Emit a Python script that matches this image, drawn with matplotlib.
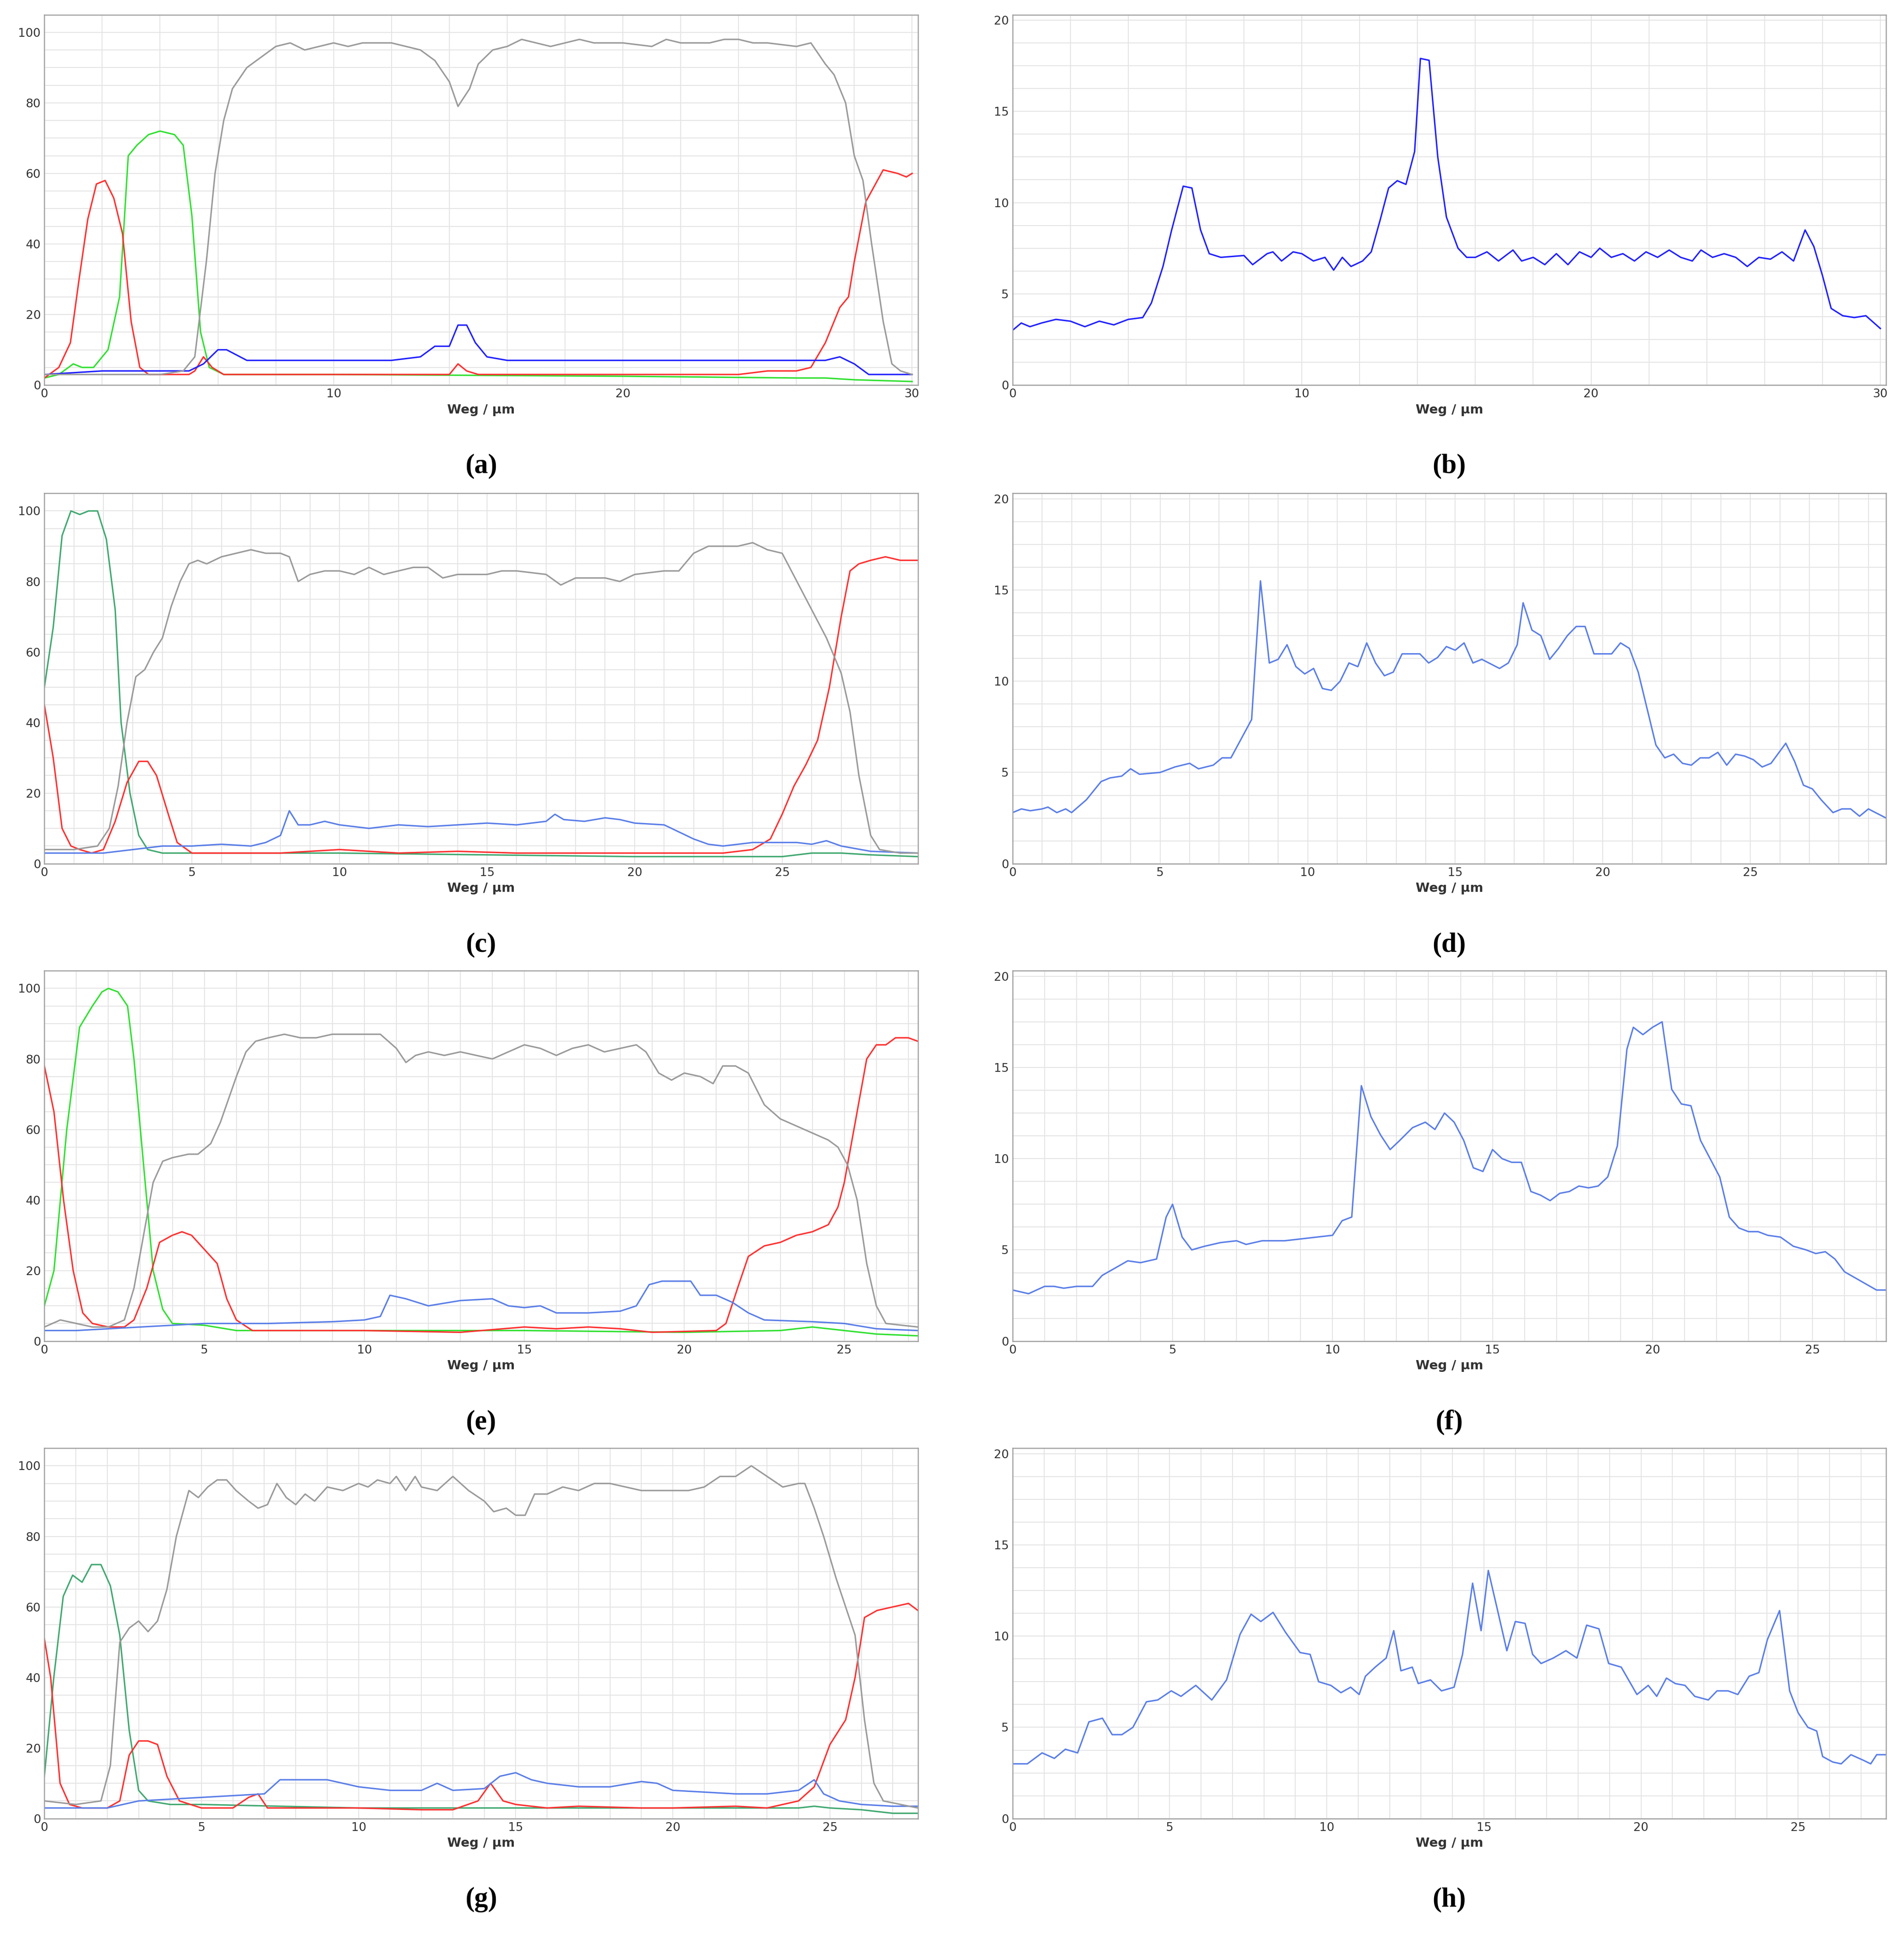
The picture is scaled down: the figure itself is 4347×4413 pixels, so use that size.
import numpy as np
import matplotlib
matplotlib.use('Agg')
import matplotlib.pyplot as plt
from matplotlib.ticker import MultipleLocator

# ── COLOURS ─────────────────────────────────────────────
GRAY = '#9a9a9a'
RED = '#ff3030'
GREEN = '#30e030'
TEAL = '#40a870'
BLUE = '#2020ff'
LBLUE = '#5a7ee8'

# ── PANEL (a) ───────────────────────────────────────────
a_gray_x = [0, 4, 4.8, 5.2, 5.6, 5.9, 6.2, 6.5, 7, 7.5, 8, 8.5, 9, 9.5, 10, 10.5, 11, 12, 13, 13.5, 14, 14.3, 14.7, 15, 15.5, 16, 16.5, 17, 17.5, 18, 18.5, 19, 20, 21, 21.5, 22, 23, 23.5, 24, 24.5, 25, 26, 26.5, 27, 27.3, 27.7, 28, 28.3, 28.6, 29, 29.3, 29.6, 30]
a_gray_y = [3, 3, 4, 8, 35, 60, 75, 84, 90, 93, 96, 97, 95, 96, 97, 96, 97, 97, 95, 92, 86, 79, 84, 91, 95, 96, 98, 97, 96, 97, 98, 97, 97, 96, 98, 97, 97, 98, 98, 97, 97, 96, 97, 91, 88, 80, 65, 58, 40, 18, 6, 4, 3]
a_red_x = [0, 0.5, 0.9, 1.2, 1.5, 1.8, 2.1, 2.4, 2.7, 3, 3.3, 3.6, 4.5, 5, 5.2, 5.5, 5.8, 6.2, 8, 14, 14.3, 14.6, 15, 24, 25, 26, 26.5, 27, 27.5, 27.8, 28, 28.4, 28.8, 29, 29.5, 29.8, 30]
a_red_y = [2, 5, 12, 30, 47, 57, 58, 53, 43, 18, 5, 3, 3, 3, 4, 8, 5, 3, 3, 3, 6, 4, 3, 3, 4, 4, 5, 12, 22, 25, 35, 52, 58, 61, 60, 59, 60]
a_green_x = [0, 0.5, 1, 1.3, 1.7, 2.2, 2.6, 2.9, 3.2, 3.6, 4, 4.5, 4.8, 5.1, 5.4, 5.7, 6.2, 10, 20, 26, 27, 28, 30]
a_green_y = [2, 3, 6, 5, 5, 10, 25, 65, 68, 71, 72, 71, 68, 48, 15, 5, 3, 3, 2.5, 2, 2, 1.5, 1]
a_blue_x = [0, 2, 4, 5, 5.5, 6, 6.3, 7, 8, 9, 10, 11, 12, 13, 13.5, 14, 14.3, 14.6, 14.9, 15.3, 16, 20, 26, 27, 27.5, 28, 28.5, 30]
a_blue_y = [3, 4, 4, 4, 6, 10, 10, 7, 7, 7, 7, 7, 7, 8, 11, 11, 17, 17, 12, 8, 7, 7, 7, 7, 8, 6, 3, 3]

# ── PANEL (b) ───────────────────────────────────────────
b_x = [0, 0.3, 0.6, 1, 1.5, 2, 2.5, 3, 3.5, 4, 4.5, 4.8, 5.2, 5.5, 5.9, 6.2, 6.5, 6.8, 7.2, 8, 8.3, 8.8, 9, 9.3, 9.7, 10, 10.4, 10.8, 11.1, 11.4, 11.7, 12.1, 12.4, 12.7, 13, 13.3, 13.6, 13.9, 14.1, 14.4, 14.7, 15, 15.4, 15.7, 16, 16.4, 16.8, 17.3, 17.6, 18, 18.4, 18.8, 19.2, 19.6, 20, 20.3, 20.7, 21.1, 21.5, 21.9, 22.3, 22.7, 23.1, 23.5, 23.8, 24.2, 24.6, 25, 25.4, 25.8, 26.2, 26.6, 27, 27.4, 27.7, 28, 28.3, 28.7, 29.1, 29.5, 30]
b_y = [3, 3.4, 3.2, 3.4, 3.6, 3.5, 3.2, 3.5, 3.3, 3.6, 3.7, 4.5, 6.5, 8.5, 10.9, 10.8, 8.5, 7.2, 7, 7.1, 6.6, 7.2, 7.3, 6.8, 7.3, 7.2, 6.8, 7, 6.3, 7, 6.5, 6.8, 7.3, 9, 10.8, 11.2, 11, 12.8, 17.9, 17.8, 12.5, 9.2, 7.5, 7, 7, 7.3, 6.8, 7.4, 6.8, 7, 6.6, 7.2, 6.6, 7.3, 7, 7.5, 7, 7.2, 6.8, 7.3, 7, 7.4, 7, 6.8, 7.4, 7, 7.2, 7, 6.5, 7, 6.9, 7.3, 6.8, 8.5, 7.6, 6, 4.2, 3.8, 3.7, 3.8, 3.1]

# ── PANEL (c) ───────────────────────────────────────────
c_gray_x = [0, 1, 1.8, 2.2, 2.5, 2.8, 3.1, 3.4, 3.7, 4, 4.3, 4.6, 4.9, 5.2, 5.5, 6, 6.5, 7, 7.5, 8, 8.3, 8.6, 9, 9.5, 10, 10.5, 11, 11.5, 12, 12.5, 13, 13.5, 14, 15, 15.5, 16, 17, 17.5, 18, 19, 19.5, 20, 21, 21.5, 22, 22.5, 23, 23.5, 24, 24.5, 25, 25.5, 26, 26.5, 27, 27.3, 27.6, 28, 28.3, 29, 29.6]
c_gray_y = [4, 4, 5, 10, 22, 40, 53, 55, 60, 64, 73, 80, 85, 86, 85, 87, 88, 89, 88, 88, 87, 80, 82, 83, 83, 82, 84, 82, 83, 84, 84, 81, 82, 82, 83, 83, 82, 79, 81, 81, 80, 82, 83, 83, 88, 90, 90, 90, 91, 89, 88, 80, 72, 64, 54, 43, 25, 8, 4, 3, 3]
c_green_x = [0, 0.3, 0.6, 0.9, 1.2, 1.5, 1.8, 2.1, 2.4, 2.6, 2.9, 3.2, 3.5, 4, 10, 20, 25, 26, 27, 28, 29.6]
c_green_y = [50, 67, 93, 100, 99, 100, 100, 92, 72, 40, 20, 8, 4, 3, 3, 2, 2, 3, 3, 2.5, 2]
c_red_x = [0, 0.3, 0.6, 0.9, 1.2, 1.6, 2, 2.4, 2.8, 3.2, 3.5, 3.8, 4.2, 4.5, 5, 6, 8, 10, 12, 14, 16, 18, 20, 23, 24, 24.6, 25, 25.4, 25.8, 26.2, 26.6, 27, 27.3, 27.6, 28, 28.5, 29, 29.6]
c_red_y = [45, 30, 10, 5, 4, 3, 4, 12, 23, 29, 29, 25, 14, 6, 3, 3, 3, 4, 3, 3.5, 3, 3, 3, 3, 4, 7, 14, 22, 28, 35, 50, 70, 83, 85, 86, 87, 86, 86]
c_blue_x = [0, 2, 3, 4, 5, 6, 7, 7.5, 8, 8.3, 8.6, 9, 9.5, 10, 11, 12, 13, 14, 15, 16, 17, 17.3, 17.6, 18.3, 19, 19.5, 20, 21, 22, 22.5, 23, 24, 25, 25.5, 26, 26.5, 27, 28, 29.6]
c_blue_y = [3, 3, 4, 5, 5, 5.5, 5, 6, 8, 15, 11, 11, 12, 11, 10, 11, 10.5, 11, 11.5, 11, 12, 14, 12.5, 12, 13, 12.5, 11.5, 11, 7, 5.5, 5, 6, 6, 6, 5.5, 6.5, 5, 3.5, 3]

# ── PANEL (d) ───────────────────────────────────────────
d_x = [0, 0.3, 0.6, 1, 1.2, 1.5, 1.8, 2, 2.5, 3, 3.3, 3.7, 4, 4.3, 5, 5.5, 6, 6.3, 6.8, 7.1, 7.4, 7.8, 8.1, 8.4, 8.7, 9, 9.3, 9.6, 9.9, 10.2, 10.5, 10.8, 11.1, 11.4, 11.7, 12, 12.3, 12.6, 12.9, 13.2, 13.8, 14.1, 14.4, 14.7, 15, 15.3, 15.6, 15.9, 16.5, 16.8, 17.1, 17.3, 17.6, 17.9, 18.2, 18.5, 18.8, 19.1, 19.4, 19.7, 20, 20.3, 20.6, 20.9, 21.2, 21.5, 21.8, 22.1, 22.4, 22.7, 23, 23.3, 23.6, 23.9, 24.2, 24.5, 24.8, 25.1, 25.4, 25.7, 26.2, 26.5, 26.8, 27.1, 27.4, 27.8, 28.1, 28.4, 28.7, 29, 29.6]
d_y = [2.8, 3.0, 2.9, 3, 3.1, 2.8, 3, 2.8, 3.5, 4.5, 4.7, 4.8, 5.2, 4.9, 5, 5.3, 5.5, 5.2, 5.4, 5.8, 5.8, 7, 7.9, 15.5, 11, 11.2, 12, 10.8, 10.4, 10.7, 9.6, 9.5, 10, 11, 10.8, 12.1, 11, 10.3, 10.5, 11.5, 11.5, 11, 11.3, 11.9, 11.7, 12.1, 11, 11.2, 10.7, 11, 12, 14.3, 12.8, 12.5, 11.2, 11.8, 12.5, 13, 13, 11.5, 11.5, 11.5, 12.1, 11.8, 10.5, 8.5, 6.5, 5.8, 6, 5.5, 5.4, 5.8, 5.8, 6.1, 5.4, 6, 5.9, 5.7, 5.3, 5.5, 6.6, 5.6, 4.3, 4.1, 3.5, 2.8, 3, 3, 2.6, 3, 2.5]

# ── PANEL (e) ───────────────────────────────────────────
e_gray_x = [0, 0.5, 1, 1.5, 2, 2.5, 2.8, 3.1, 3.4, 3.7, 4, 4.5, 4.8, 5.2, 5.5, 6, 6.3, 6.6, 7, 7.5, 8, 8.5, 9, 9.5, 10, 10.5, 11, 11.3, 11.6, 12, 12.5, 13, 13.5, 14, 14.5, 15, 15.5, 16, 16.5, 17, 17.5, 18, 18.5, 18.8, 19.2, 19.6, 20, 20.5, 20.9, 21.2, 21.6, 22, 22.5, 23, 23.5, 24, 24.5, 24.8, 25.1, 25.4, 25.7, 26, 26.3, 27.3]
e_gray_y = [4, 6, 5, 4, 4, 6, 15, 30, 45, 51, 52, 53, 53, 56, 62, 75, 82, 85, 86, 87, 86, 86, 87, 87, 87, 87, 83, 79, 81, 82, 81, 82, 81, 80, 82, 84, 83, 81, 83, 84, 82, 83, 84, 82, 76, 74, 76, 75, 73, 78, 78, 76, 67, 63, 61, 59, 57, 55, 50, 40, 22, 10, 5, 4]
e_green_x = [0, 0.3, 0.7, 1.1, 1.5, 1.8, 2, 2.3, 2.6, 2.8, 3.1, 3.4, 3.7, 4, 5, 6, 10, 15, 20, 23, 24, 25, 26, 27.3]
e_green_y = [10, 20, 60, 89, 95, 99, 100, 99, 95, 80, 50, 20, 9, 5, 4.5, 3, 3, 3, 2.5, 3, 4, 3, 2, 1.5]
e_red_x = [0, 0.3, 0.6, 0.9, 1.2, 1.5, 2, 2.5, 2.8, 3.2, 3.6, 4, 4.3, 4.6, 5, 5.4, 5.7, 6, 6.5, 10, 13, 15, 16, 17, 18, 19, 21, 21.3, 21.7, 22, 22.5, 23, 23.5, 24, 24.5, 24.8, 25, 25.2, 25.4, 25.7, 26, 26.3, 26.6, 27, 27.3]
e_red_y = [78, 65, 40, 20, 8, 5, 4, 4, 6, 15, 28, 30, 31, 30, 26, 22, 12, 6, 3, 3, 2.5, 4, 3.5, 4, 3.5, 2.5, 3, 5, 16, 24, 27, 28, 30, 31, 33, 38, 45, 55, 65, 80, 84, 84, 86, 86, 85]
e_blue_x = [0, 1, 2, 3, 4, 5, 6, 7, 9, 10, 10.5, 10.8, 11.3, 12, 13, 14, 14.5, 15, 15.5, 16, 17, 18, 18.5, 18.9, 19.3, 19.8, 20.2, 20.5, 21, 21.5, 22, 22.5, 24, 25, 26, 27.3]
e_blue_y = [3, 3, 3.5, 4, 4.5, 5, 5, 5, 5.5, 6, 7, 13, 12, 10, 11.5, 12, 10, 9.5, 10, 8, 8, 8.5, 10, 16, 17, 17, 17, 13, 13, 11, 8, 6, 5.5, 5, 3.5, 3]

# ── PANEL (f) ───────────────────────────────────────────
f_x = [0, 0.5, 1, 1.3, 1.6, 2, 2.5, 2.8, 3.2, 3.6, 4, 4.5, 4.8, 5, 5.3, 5.6, 6, 6.5, 7, 7.3, 7.8, 8.5, 9, 9.5, 10, 10.3, 10.6, 10.9, 11.2, 11.5, 11.8, 12.1, 12.5, 12.9, 13.2, 13.5, 13.8, 14.1, 14.4, 14.7, 15, 15.3, 15.6, 15.9, 16.2, 16.5, 16.8, 17.1, 17.4, 17.7, 18, 18.3, 18.6, 18.9, 19.2, 19.4, 19.7, 20, 20.3, 20.6, 20.9, 21.2, 21.5, 21.8, 22.1, 22.4, 22.7, 23, 23.3, 23.6, 24, 24.4, 24.8, 25.1, 25.4, 25.7, 26, 26.3, 26.6, 27, 27.3]
f_y = [2.8, 2.6, 3, 3, 2.9, 3, 3, 3.6, 4, 4.4, 4.3, 4.5, 6.8, 7.5, 5.7, 5, 5.2, 5.4, 5.5, 5.3, 5.5, 5.5, 5.6, 5.7, 5.8, 6.6, 6.8, 14, 12.3, 11.3, 10.5, 11, 11.7, 12, 11.6, 12.5, 12, 11, 9.5, 9.3, 10.5, 10, 9.8, 9.8, 8.2, 8, 7.7, 8.1, 8.2, 8.5, 8.4, 8.5, 9, 10.7, 16, 17.2, 16.8, 17.2, 17.5, 13.8, 13, 12.9, 11, 10, 9, 6.8, 6.2, 6, 6, 5.8, 5.7, 5.2, 5, 4.8, 4.9, 4.5, 3.8, 3.5, 3.2, 2.8, 2.8]

# ── PANEL (g) ───────────────────────────────────────────
g_gray_x = [0, 1, 1.8, 2.1, 2.4, 2.7, 3, 3.3, 3.6, 3.9, 4.2, 4.6, 4.9, 5.2, 5.5, 5.8, 6.1, 6.5, 6.8, 7.1, 7.4, 7.7, 8, 8.3, 8.6, 9, 9.5, 10, 10.3, 10.6, 11, 11.2, 11.5, 11.8, 12, 12.5, 13, 13.5, 14, 14.3, 14.7, 15, 15.3, 15.6, 16, 16.5, 17, 17.5, 18, 18.5, 19, 20, 20.5, 21, 21.5, 22, 22.5, 23, 23.5, 24, 24.2, 24.5, 24.8, 25.2, 25.5, 25.8, 26.1, 26.4, 26.7, 27.8]
g_gray_y = [5, 4, 5, 15, 50, 54, 56, 53, 56, 65, 80, 93, 91, 94, 96, 96, 93, 90, 88, 89, 95, 91, 89, 92, 90, 94, 93, 95, 94, 96, 95, 97, 93, 97, 94, 93, 97, 93, 90, 87, 88, 86, 86, 92, 92, 94, 93, 95, 95, 94, 93, 93, 93, 94, 97, 97, 100, 97, 94, 95, 95, 88, 80, 68, 60, 52, 28, 10, 5, 3]
g_green_x = [0, 0.3, 0.6, 0.9, 1.2, 1.5, 1.8, 2.1, 2.4, 2.7, 3, 3.3, 4, 5, 10, 15, 20, 24, 24.5, 25, 26, 27, 27.8]
g_green_y = [12, 40, 63, 69, 67, 72, 72, 66, 52, 25, 8, 5, 4, 4, 3, 3, 3, 3, 3.5, 3, 2.5, 1.5, 1.5]
g_red_x = [0, 0.2, 0.5, 0.8, 1.2, 2, 2.4, 2.7, 3, 3.3, 3.6, 3.9, 4.3, 5, 6, 6.5, 6.8, 7.1, 8, 10, 12, 13, 13.8, 14.2, 14.6, 15, 16, 17, 19, 20, 22, 23, 24, 24.5, 25, 25.5, 25.8, 26.1, 26.5, 27, 27.5, 27.8]
g_red_y = [51, 40, 10, 4, 3, 3, 5, 18, 22, 22, 21, 12, 5, 3, 3, 6, 7, 3, 3, 3, 2.5, 2.5, 5, 10, 5, 4, 3, 3.5, 3, 3, 3.5, 3, 5, 9, 21, 28, 40, 57, 59, 60, 61, 59]
g_blue_x = [0, 1, 2, 2.5, 3, 4, 5, 6, 7, 7.5, 8, 9, 10, 11, 12, 12.5, 13, 14, 14.5, 15, 15.5, 16, 17, 18, 19, 19.5, 20, 22, 23, 24, 24.5, 24.8, 25.3, 26, 27, 27.8]
g_blue_y = [3, 3, 3, 4, 5, 5.5, 6, 6.5, 7, 11, 11, 11, 9, 8, 8, 10, 8, 8.5, 12, 13, 11, 10, 9, 9, 10.5, 10, 8, 7, 7, 8, 11, 7, 5, 4, 3.5, 3.5]

# ── PANEL (h) ───────────────────────────────────────────
h_x = [0, 0.47, 0.94, 1.33, 1.68, 2.07, 2.43, 2.86, 3.17, 3.48, 3.83, 4.26, 4.62, 5.05, 5.36, 5.83, 6.34, 6.81, 7.24, 7.59, 7.90, 8.29, 8.69, 9.15, 9.47, 9.74, 10.13, 10.45, 10.76, 11.03, 11.23, 11.54, 11.89, 12.13, 12.36, 12.72, 12.91, 13.30, 13.65, 14.05, 14.32, 14.64, 14.91, 15.14, 15.45, 15.73, 16.0, 16.31, 16.55, 16.82, 17.21, 17.61, 17.96, 18.27, 18.66, 18.97, 19.37, 19.87, 20.23, 20.5, 20.81, 21.09, 21.4, 21.71, 22.14, 22.42, 22.77, 23.08, 23.44, 23.75, 24.02, 24.41, 24.73, 25.0, 25.31, 25.59, 25.78, 26.1, 26.37, 26.68, 27.07, 27.31, 27.5, 27.78]
h_y = [3, 3, 3.6, 3.3, 3.8, 3.6, 5.3, 5.5, 4.6, 4.6, 5, 6.4, 6.5, 7, 6.7, 7.3, 6.5, 7.6, 10.1, 11.2, 10.8, 11.3, 10.2, 9.1, 9, 7.5, 7.3, 6.9, 7.2, 6.8, 7.8, 8.3, 8.8, 10.3, 8.1, 8.3, 7.4, 7.6, 7, 7.2, 9, 12.9, 10.3, 13.6, 11.3, 9.2, 10.8, 10.7, 9, 8.5, 8.8, 9.2, 8.8, 10.6, 10.4, 8.5, 8.3, 6.8, 7.3, 6.7, 7.7, 7.4, 7.3, 6.7, 6.5, 7, 7, 6.8, 7.8, 8, 9.8, 11.4, 7, 5.8, 5, 4.8, 3.4, 3.1, 3, 3.5, 3.2, 3, 3.5, 3.5]

# ── FIGURE LAYOUT ───────────────────────────────────────
fig = plt.figure(figsize=(14.493, 14.71), dpi=300)
plt.rcParams['font.family'] = ['DejaVu Sans']

lefts = [0.0233, 0.5317]
bottoms = [0.8008, 0.5532, 0.3062, 0.0592]
W, H = 0.4587, 0.1916


def setup(ax, xmax, xstep, ymax, ystep, letter):
    ax.set_xlim(0, xmax)
    ax.set_ylim(0, ymax)
    ax.xaxis.set_major_locator(MultipleLocator(xstep))
    ax.xaxis.set_minor_locator(MultipleLocator(xstep / 5))
    ax.yaxis.set_major_locator(MultipleLocator(ystep))
    ax.yaxis.set_minor_locator(MultipleLocator(ystep / 4))
    ax.grid(True, which='both', color='#e4e4e4', lw=0.5)
    ax.set_axisbelow(True)
    ax.tick_params(which='both', length=0, labelsize=6.5, pad=2, colors='#333333')
    for s in ax.spines.values():
        s.set_color('#a0a0a0')
        s.set_linewidth(0.6)
    ax.set_xlabel('Weg / µm', fontsize=7, fontweight='bold', labelpad=2, color='#333333')
    ax.text(0.5, -0.185, '(' + letter + ')', transform=ax.transAxes, ha='center', va='top',
            fontsize=15, family='Liberation Serif', fontweight='bold')


def left_panel(row, xmax, xstep, lines, letter):
    ax = fig.add_axes([lefts[0], bottoms[row], W, H])
    for xs, ys, c in lines:
        ax.plot(xs, ys, color=c, lw=0.8)
    setup(ax, xmax, xstep, 105, 20, letter)
    return ax


def right_panel(row, xmax, xstep, xs, ys, c, letter):
    ax = fig.add_axes([lefts[1], bottoms[row], W, H])
    ax.plot(xs, ys, color=c, lw=0.8)
    setup(ax, xmax, xstep, 20.3, 5, letter)
    return ax


left_panel(0, 30.2, 10, [(a_green_x, a_green_y, GREEN), (a_red_x, a_red_y, RED),
                         (a_blue_x, a_blue_y, BLUE), (a_gray_x, a_gray_y, GRAY)], 'a')
right_panel(0, 30.2, 10, b_x, b_y, BLUE, 'b')
left_panel(1, 29.6, 5, [(c_green_x, c_green_y, TEAL), (c_red_x, c_red_y, RED),
                        (c_blue_x, c_blue_y, LBLUE), (c_gray_x, c_gray_y, GRAY)], 'c')
right_panel(1, 29.6, 5, d_x, d_y, LBLUE, 'd')
left_panel(2, 27.3, 5, [(e_green_x, e_green_y, GREEN), (e_red_x, e_red_y, RED),
                        (e_blue_x, e_blue_y, LBLUE), (e_gray_x, e_gray_y, GRAY)], 'e')
right_panel(2, 27.3, 5, f_x, f_y, LBLUE, 'f')
left_panel(3, 27.8, 5, [(g_green_x, g_green_y, TEAL), (g_red_x, g_red_y, RED),
                        (g_blue_x, g_blue_y, LBLUE), (g_gray_x, g_gray_y, GRAY)], 'g')
right_panel(3, 27.8, 5, h_x, h_y, LBLUE, 'h')

fig.savefig('out.png', dpi=300)
